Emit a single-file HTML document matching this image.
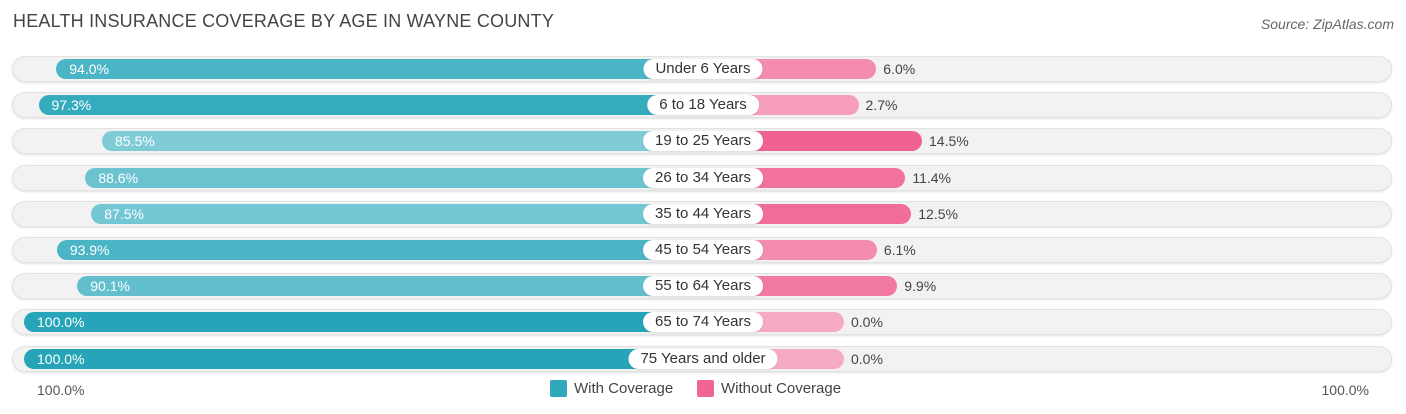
<!DOCTYPE html>
<html><head><meta charset="utf-8">
<style>
body{margin:0;width:1406px;height:414px;background:#fff;font-family:"Liberation Sans",sans-serif;position:relative;overflow:hidden}
.title{position:absolute;left:13px;top:11px;font-size:18px;color:#444;letter-spacing:0.2px}
.src{position:absolute;right:12px;top:16px;font-size:14px;color:#666;font-style:italic}
.track{position:absolute;left:12px;width:1380px;height:26px;border-radius:13px;background:#f2f2f2;box-shadow:inset 0 0 0 1px #e2e2e2,0 1px 2px rgba(0,0,0,0.12)}
.bar{position:absolute;height:20px;border-radius:10px}
.lab{position:absolute;height:20px;line-height:20px;background:#fff;border-radius:10px;font-size:15px;color:#333;text-align:center;padding:0 12px;transform:translateX(-50%);box-shadow:0 1px 2px rgba(0,0,0,0.1)}
.vin{position:absolute;font-size:14px;color:#fff;line-height:20px}
.vout{position:absolute;font-size:14px;color:#444;line-height:20px}
.leg{position:absolute;top:380px;font-size:15px;color:#444}
.sw{position:absolute;top:380px;width:17px;height:17px;border-radius:2px}
.ax{position:absolute;top:382px;font-size:14px;color:#555}
</style></head><body>
<div class="title">HEALTH INSURANCE COVERAGE BY AGE IN WAYNE COUNTY</div>
<div class="src">Source: ZipAtlas.com</div>
<div id="rows"></div>
<div class="ax" style="left:37px">100.0%</div>
<div class="ax" style="right:37px">100.0%</div>
<div class="sw" style="left:550px;background:#2ea8ba"></div>
<div class="leg" style="left:574px">With Coverage</div>
<div class="sw" style="left:697px;background:#f06592"></div>
<div class="leg" style="left:721px">Without Coverage</div>
<script>
const categories=["Under 6 Years","6 to 18 Years","19 to 25 Years","26 to 34 Years","35 to 44 Years","45 to 54 Years","55 to 64 Years","65 to 74 Years","75 Years and older"];
const withCov=[94.0,97.3,85.5,88.6,87.5,93.9,90.1,100.0,100.0];
const withoutCov=[6.0,2.7,14.5,11.4,12.5,6.1,9.9,0.0,0.0];
const C=703,BASE=141,K=5.38,Y0=56,DY=36.2;
function len(v){return BASE+v*K;}
function mix(a,b,t){return 'rgb('+a.map((x,i)=>Math.round(x+(b[i]-x)*t)).join(',')+')';}
const root=document.getElementById('rows');
categories.forEach((c,i)=>{
  const y=Y0+i*DY;
  const tr=document.createElement('div');tr.className='track';tr.style.top=y+'px';
  
  
  root.appendChild(tr);
  const lw=len(withCov[i]);
  const b=document.createElement('div');b.className='bar';
  b.style.left=(C-lw)+'px';b.style.width=lw+'px';b.style.top=(y+3)+'px';
  b.style.background=mix([130,205,216],[38,164,184],Math.max(0,Math.min(1,(withCov[i]-85)/15)));
  
  
  root.appendChild(b);
  const rw=len(withoutCov[i]);
  const p=document.createElement('div');p.className='bar';
  p.style.left=C+'px';p.style.width=rw+'px';p.style.top=(y+3)+'px';
  p.style.background=mix([247,171,194],[240,98,144],Math.min(1,withoutCov[i]/14.5));
  
  
  root.appendChild(p);
  const l=document.createElement('div');l.className='lab';l.textContent=c;
  l.style.left=C+'px';l.style.top=(y+3)+'px';
  
  
  root.appendChild(l);
  const vi=document.createElement('div');vi.className='vin';vi.textContent=withCov[i].toFixed(1)+'%';
  vi.style.left=(C-lw+13)+'px';vi.style.top=(y+3)+'px';
  
  
  root.appendChild(vi);
  const vo=document.createElement('div');vo.className='vout';vo.textContent=withoutCov[i].toFixed(1)+'%';
  vo.style.left=(C+rw+7)+'px';vo.style.top=(y+3)+'px';
  
  
  root.appendChild(vo);
});
</script>
</body></html>
